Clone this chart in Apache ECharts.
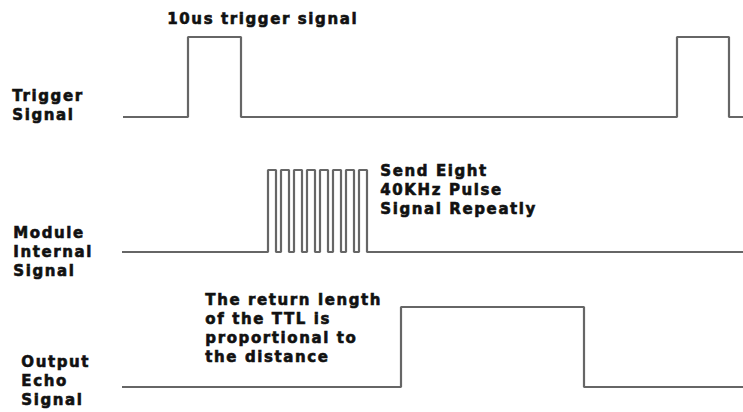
<!DOCTYPE html>
<html>
<head>
<meta charset="utf-8">
<script src="https://cdn.jsdelivr.net/npm/echarts@6/dist/echarts.min.js"></script>
<style>
    html, body { margin: 0; padding: 0; background: #fff; }
    #chart { width: 743px; height: 412px; }
    /* the original lettering is spaced out */
    #chart svg text { letter-spacing: 1.6px; }
</style>
</head>
<body>
<div id="chart"></div>
<script>
// signal transitions: [time, level], level holds until the next point
const trigger_signal = [[123, 0], [188, 1], [241, 0], [677, 1], [729, 0], [743, 0]];
const module_signal = [
    [122, 0],
    [268, 1], [276, 0], [281, 1], [289, 0], [294, 1], [302, 0], [307, 1], [315, 0],
    [320, 1], [328, 0], [333, 1], [341, 0], [346, 1], [354, 0], [359, 1], [367, 0],
    [743, 0]
];
const echo_signal = [[122, 0], [401, 1], [584, 0], [743, 0]];

// row labels and notes
const trigger_label = ['Trigger', 'Signal'];
const module_label = ['Module', 'Internal', 'Signal'];
const echo_label = ['Output', 'Echo', 'Signal'];
const trigger_note = ['10us trigger signal'];
const module_note = ['Send Eight', '40KHz Pulse', 'Signal Repeatly'];
const echo_note = ['The return length', 'of the TTL is', 'proportional to', 'the distance'];

const line_color = '#666';
const text_font = 'bold 15px "DejaVu Sans", sans-serif';

let chart = echarts.init(document.getElementById('chart'), null, {renderer: 'svg'});

/**
 * 一行信号的绘图区
 */
function rowGrid(top, height) {
    return {left: 0, right: 0, top: top, height: height, containLabel: false};
}

function signalSeries(idx, data) {
    return {
        type: 'line',
        xAxisIndex: idx,
        yAxisIndex: idx,
        step: 'end',
        data: data,
        symbol: 'none',
        clip: false,
        silent: true,
        lineStyle: {color: line_color, width: 2.2}
    };
}

function textBlock(lines, x, y) {
    return {
        type: 'text',
        left: x,
        top: y,
        silent: true,
        style: {
            text: lines.join('\n'),
            font: text_font,
            fill: '#111',
            stroke: '#111',
            lineWidth: 0.6,
            lineHeight: 19
        }
    };
}

let xAxes = [], yAxes = [];
for (let i = 0; i < 3; i++) {
    xAxes.push({type: 'value', gridIndex: i, min: 0, max: 743, show: false});
    yAxes.push({type: 'value', gridIndex: i, min: 0, max: 1, show: false});
}

let option = {
    animation: false,
    backgroundColor: '#fff',
    grid: [rowGrid(37, 80), rowGrid(170, 82), rowGrid(307, 80)],
    xAxis: xAxes,
    yAxis: yAxes,
    series: [
        signalSeries(0, trigger_signal),
        signalSeries(1, module_signal),
        signalSeries(2, echo_signal)
    ],
    graphic: [
        textBlock(trigger_note, 167, 9),
        textBlock(trigger_label, 12, 86),
        textBlock(module_label, 13, 223),
        textBlock(module_note, 380, 161),
        textBlock(echo_note, 205, 290),
        textBlock(echo_label, 21, 352)
    ]
};

chart.setOption(option);
</script>
</body>
</html>
